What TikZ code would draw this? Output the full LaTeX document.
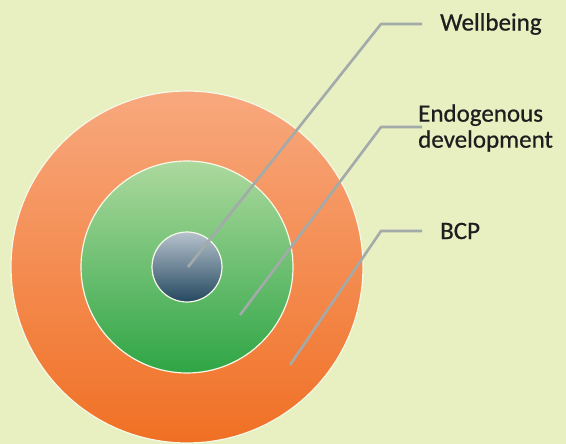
\documentclass[tikz,border=0pt]{standalone}
\usepackage{fontspec}
\setmainfont{Carlito}
\newfontfamily\tagfont[FakeBold=0.6]{Carlito}
\usetikzlibrary{positioning}

\definecolor{paper}{HTML}{E8F0C2}
\definecolor{bcptop}{HTML}{F8A87E}
\definecolor{bcpbot}{HTML}{F07024}
\definecolor{endotop}{HTML}{ACD99E}
\definecolor{endobot}{HTML}{2EA545}
\definecolor{welltop}{HTML}{B6C2CC}
\definecolor{wellbot}{HTML}{244860}
\definecolor{leader}{HTML}{A3AAAA}
\definecolor{ink}{HTML}{1E1E1E}

\tikzset{
	ring/.style = {circle, inner sep = 0pt, draw = white!60!paper, line width = 1.2pt},
	leadline/.style = {leader, line width = 2.6pt, line join = round},
	tag/.style = {anchor = west, inner sep = 0pt, text = ink, font = \tagfont\fontsize{25}{26}\selectfont, align = left}
}

\begin{document}
\begin{tikzpicture}[x = 1pt, y = -1pt]
			\fill[paper] (0, 0) rectangle (566, 444);
			\useasboundingbox (0, 0) rectangle (566, 444);

			\node[ring, minimum size = 352pt, top color = bcptop, bottom color = bcpbot] (bcp) at (187, 267) {};
			\node[ring, minimum size = 212pt, top color = endotop, bottom color = endobot] (endo) at (bcp.center) {};
			\node[ring, minimum size = 70pt, top color = welltop, bottom color = wellbot] (well) at (bcp.center) {};

			\coordinate (well-dot) at (188, 267);
			\coordinate (well-bend) at (381, 24);
			\coordinate (well-end) at (422, 24);
			\coordinate (endo-dot) at (240, 315);
			\coordinate (endo-bend) at (381, 127);
			\coordinate (endo-end) at (422, 127);
			\coordinate (bcp-dot) at (290, 365);
			\coordinate (bcp-bend) at (381, 231);
			\coordinate (bcp-end) at (422, 231);

			\draw[leadline] (well-dot) -- (well-bend) -- (well-end);
			\draw[leadline] (endo-dot) -- (endo-bend) -- (endo-end);
			\draw[leadline] (bcp-dot) -- (bcp-bend) -- (bcp-end);

			\node[tag, right = 18pt of well-end] (well-label) {Wellbeing};
			\node[tag, right = -4pt of endo-end, yshift = -1pt] (endo-label) {Endogenous\\development};
			\node[tag, right = 18pt of bcp-end] (bcp-label) {BCP};
		\end{tikzpicture}
\end{document}
